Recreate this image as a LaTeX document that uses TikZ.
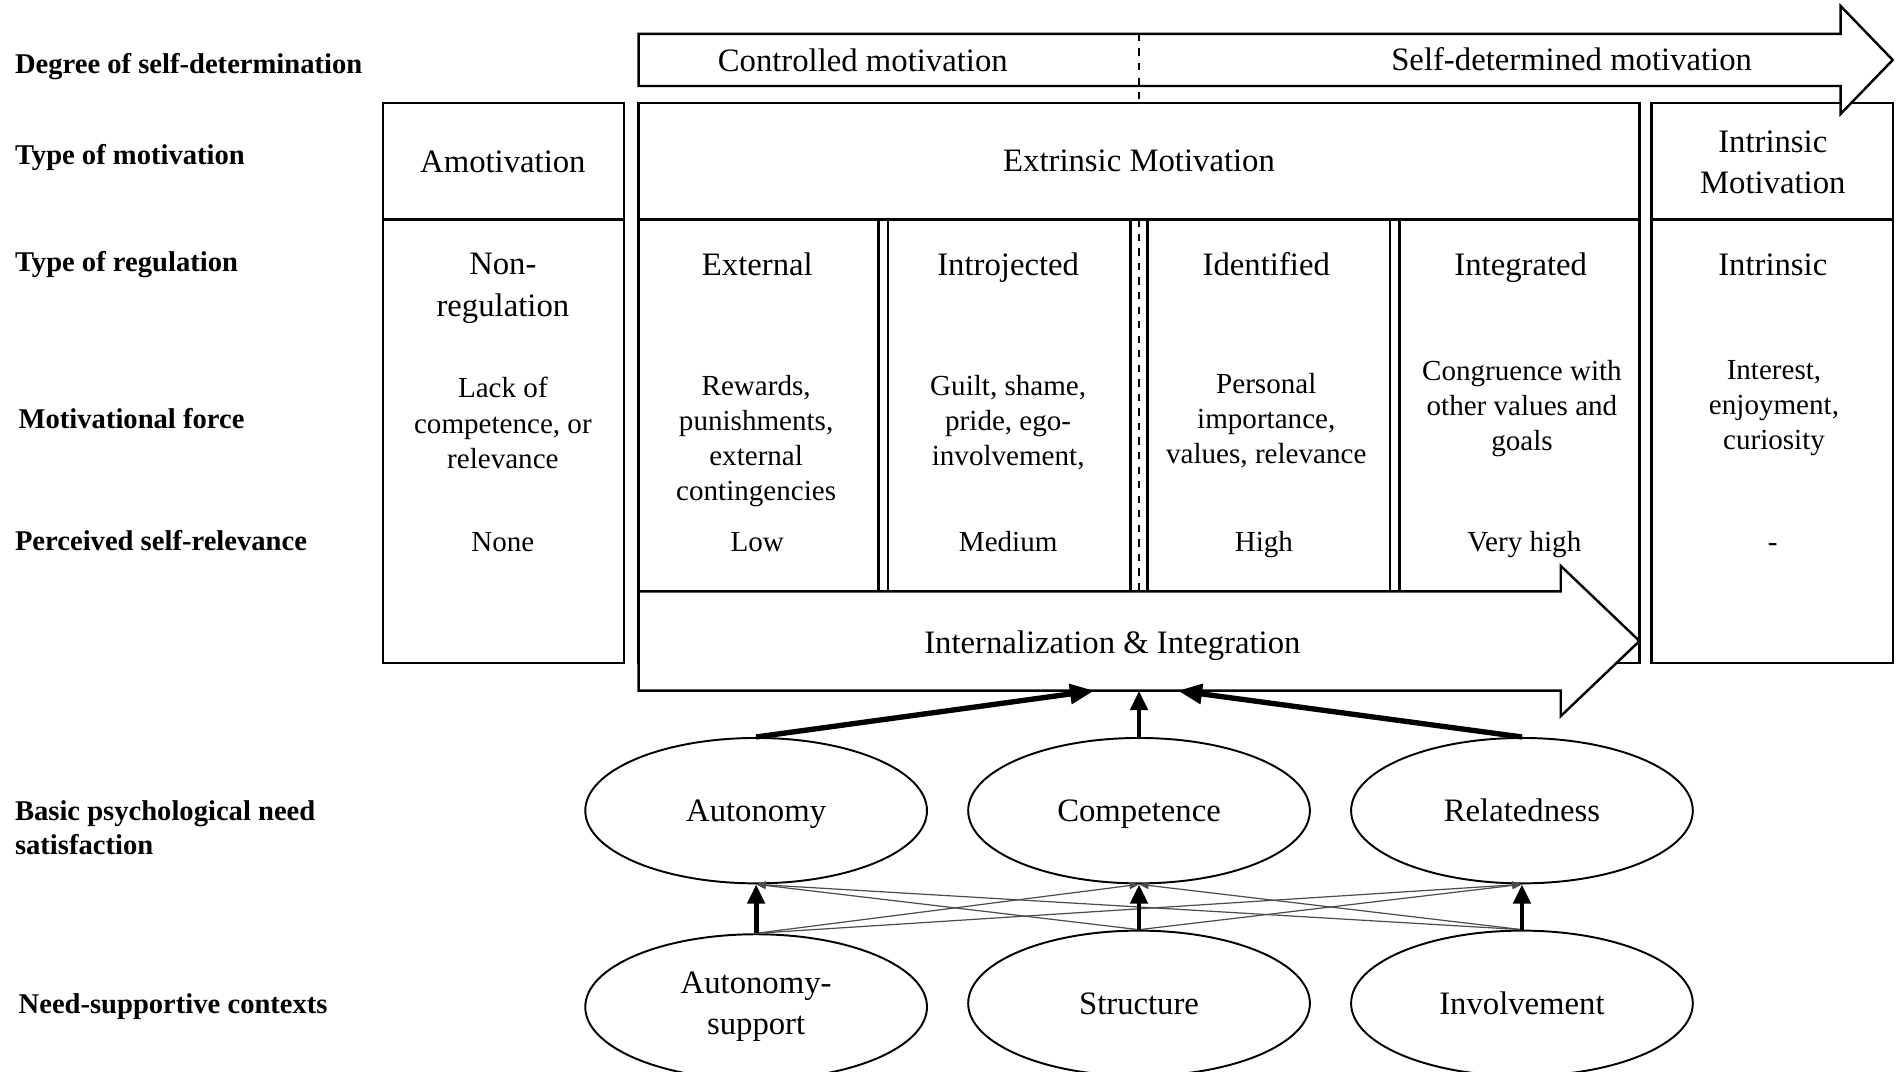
\documentclass[tikz,border=0pt]{standalone}
\usepackage{fontspec}
\setmainfont{Liberation Serif}
\usetikzlibrary{shapes.geometric,arrows.meta}
\begin{document}
\begin{tikzpicture}[x=0.5pt,y=-0.5pt,
 lbl/.style={anchor=west,font=\fontsize{11.8}{14}\selectfont\bfseries,align=left,inner sep=0},
 onelbl/.style={text height=8pt,text depth=0pt},
 onehd/.style={text height=9.2pt,text depth=0pt},
 onebd/.style={text height=8.2pt,text depth=0pt},
 hd/.style={font=\fontsize{13.5}{17}\selectfont,align=center,inner sep=0},
 bd/.style={font=\fontsize{12}{14.5}\selectfont,align=center,inner sep=0},
 cell/.style={draw,line width=1pt},
 ell/.style={draw,ellipse,line width=0.8pt,minimum width=141pt,minimum height=60pt,inner sep=0,font=\fontsize{13.5}{17}\selectfont,align=center},
 bigarr/.style={line width=2.2pt,-{Triangle[length=10pt,width=8pt]}},
 vertarr/.style={line width=2pt,-{Triangle[length=8pt,width=7pt]}},
 crossarr/.style={line width=0.5pt,draw=black!70,-{Triangle[length=4pt,width=3pt]}}]
\useasboundingbox (0,0) rectangle (1568,884);

% left labels
\node[lbl,onelbl] (l1) at (12,53) {Degree of self-determination};
\node[lbl,onelbl] (l2) at (12,128) {Type of motivation};
\node[lbl,onelbl] (l3) at (12,216) {Type of regulation};
\node[lbl,onelbl] (l4) at (15,346) {Motivational force};
\node[lbl,onelbl] (l5) at (12,446) {Perceived self-relevance};
\node[lbl] (l6) at (12,683) {Basic psychological need\\satisfaction};
\node[lbl,onelbl] (l7) at (15,828) {Need-supportive contexts};

% boxes
\draw[cell] (316,85) rectangle (515,547);
\draw[cell] (316,181) -- (515,181);
\draw[cell] (527,85) rectangle (1353,547);
\draw[cell] (527,181) -- (1353,181);
\draw[cell] (1363,85) rectangle (1562,547);
\draw[cell] (1363,181) -- (1562,181);
\foreach \xx in {725,733,933,947,1147,1155}
  \draw[cell] (\xx,181) -- (\xx,488);
\draw[line width=1pt,dashed] (940,181) -- (940,488);

% internalization arrow
\draw[cell,fill=white] (527,488) -- (1288,488) -- (1288,467) -- (1353,529) -- (1288,591) -- (1288,570) -- (527,570) -- cycle;
\node[hd,onehd] (intl) at (918,530) {Internalization \& Integration};
\coordinate (ia1) at (903,570);
\coordinate (ia2) at (940,570);
\coordinate (ia3) at (972,570);

% top arrow
\draw[cell,fill=white] (527,28) -- (1519,28) -- (1519,5) -- (1562,49.5) -- (1519,94) -- (1519,71) -- (527,71) -- cycle;
\draw[line width=0.8pt,dashed] (940,28) -- (940,85);
\node[hd,onehd] (ctrl) at (712,50) {Controlled motivation};
\node[hd,onehd] (sdm) at (1297,49) {Self-determined motivation};

% type of motivation
\node[hd,onehd] (amot) at (415,133) {Amotivation};
\node[hd,onehd] (extr) at (940,132) {Extrinsic Motivation};
\node[hd] (intr) at (1463,134) {Intrinsic\\Motivation};

% regulation
\node[hd] (r1) at (415,238) {Non-\\regulation};
\node[hd,onehd] (r2) at (625,218) {External};
\node[hd,onehd] (r3) at (832,218) {Introjected};
\node[hd,onehd] (r4) at (1045,218) {Identified};
\node[hd,onehd] (r5) at (1255,218) {Integrated};
\node[hd,onehd] (r6) at (1463,218) {Intrinsic};

% forces
\node[bd] (f1) at (415,349) {Lack of\\competence, or\\relevance};
\node[bd] (f2) at (624,364) {Rewards,\\punishments,\\external\\contingencies};
\node[bd] (f3) at (832,349) {Guilt, shame,\\pride, ego-\\involvement,};
\node[bd] (f4) at (1045,347) {Personal\\importance,\\values, relevance};
\node[bd] (f5) at (1256,337) {Congruence with\\other values and\\goals};
\node[bd] (f6) at (1464,337) {Interest,\\enjoyment,\\curiosity};

% self-relevance
\node[bd,onebd] (s1) at (415,447) {None};
\node[bd,onebd] (s2) at (625,447) {Low};
\node[bd,onebd] (s3) at (832,447) {Medium};
\node[bd,onebd] (s4) at (1043,447) {High};
\node[bd,onebd] (s5) at (1258,447) {Very high};
\node[bd,onebd] (s6) at (1463,447) {-};

% ellipses
\node[ell,onehd] (aut) at (624,669) {Autonomy};
\node[ell,onehd] (comp) at (940,669) {Competence};
\node[ell,onehd] (rel) at (1256,669) {Relatedness};
\node[ell] (as) at (624,831) {Autonomy-\\support};
\node[ell,onehd] (str) at (940,828) {Structure};
\node[ell,onehd] (inv) at (1256,828) {Involvement};

% connectors
\draw[bigarr] (aut.north) -- (ia1);
\draw[vertarr] (comp.north) -- (ia2);
\draw[bigarr] (rel.north) -- (ia3);

\draw[crossarr] (as.north) -- (comp.south);
\draw[crossarr] (as.north) -- (rel.south);
\draw[crossarr] (str.north) -- (aut.south);
\draw[crossarr] (str.north) -- (rel.south);
\draw[crossarr] (inv.north) -- (aut.south);
\draw[crossarr] (inv.north) -- (comp.south);

\draw[vertarr] (as.north) -- (aut.south);
\draw[vertarr] (str.north) -- (comp.south);
\draw[vertarr] (inv.north) -- (rel.south);
\end{tikzpicture}
\end{document}
